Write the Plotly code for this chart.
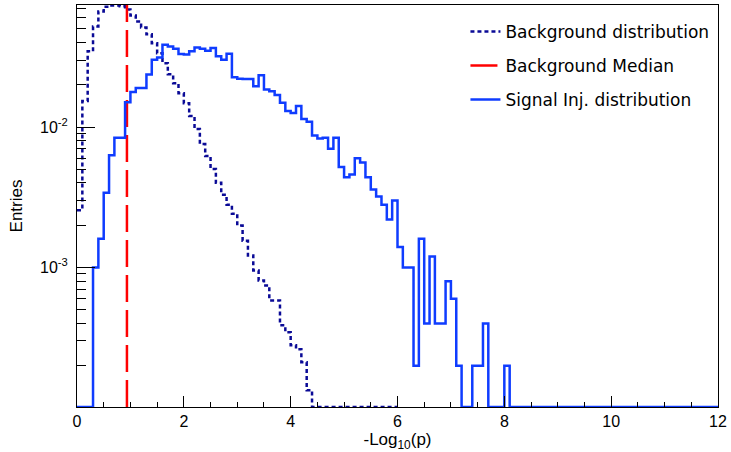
import numpy as np
import plotly.graph_objects as go

# ---------------- data ----------------
bin_width = 0.1

# Background distribution: 60 bins of width 0.1 from 0 to 6
bg_values = [
    0.00256, 0.0153, 0.0346, 0.0520, 0.0666, 0.0720, 0.0735, 0.0735, 0.0725, 0.0687,
    0.0622, 0.0565, 0.0512, 0.0457, 0.0395, 0.0335, 0.0285, 0.0238, 0.0205, 0.0174,
    0.0148, 0.0120, 0.00968, 0.00757, 0.00622, 0.00503, 0.00401, 0.00330, 0.00280, 0.00241,
    0.00199, 0.00155, 0.00122, 0.000952, 0.000809, 0.000745, 0.000583, 0.000583, 0.000388, 0.000346,
    0.000280, 0.000262, 0.000212, 0.000134, 0, 0, 0, 0, 0, 0,
    0, 0, 0, 0, 0, 0, 0, 0, 0, 0,
]

# Signal injected distribution: 120 bins of width 0.1 from 0 to 12
sig_values = [
    0, 0, 0, 0.0010, 0.0016, 0.0034, 0.0063, 0.0084, 0.0084, 0.0150,
    0.0178, 0.0190, 0.0190, 0.0237, 0.0302, 0.0313, 0.0386, 0.0375, 0.0361, 0.0331,
    0.0328, 0.0346, 0.0369, 0.0361, 0.0350, 0.0365, 0.0319, 0.0302, 0.0333, 0.0226,
    0.0221, 0.0220, 0.0220, 0.0195, 0.0234, 0.0185, 0.0180, 0.0169, 0.0149, 0.0130,
    0.0126, 0.0141, 0.0114, 0.0109, 0.0087, 0.0083, 0.0084, 0.0070, 0.0084, 0.0052,
    0.0044, 0.0046, 0.0060, 0.0056, 0.0044, 0.0036, 0.0032, 0.0028, 0.0022, 0.0030,
    0.0014, 0.0010, 0.0010, 0.0002, 0.0016, 0.0004, 0.0012, 0.0004, 0.0004, 0.0008,
    0.0006, 0.0002, 0, 0, 0.0002, 0.0002, 0.0004, 0, 0, 0,
    0.0002, 0, 0, 0, 0, 0, 0, 0, 0, 0,
    0, 0, 0, 0, 0, 0, 0, 0, 0, 0,
    0, 0, 0, 0, 0, 0, 0, 0, 0, 0,
    0, 0, 0, 0, 0, 0, 0, 0, 0, 0,
]

background_median = 0.935

x_tick_values = [0, 2, 4, 6, 8, 10, 12]
y_tick_values = [1e-3, 1e-2]
y_tick_labels = ["10<sup>-3</sup>", "10<sup>-2</sup>"]

# ---------------- layout constants ----------------
x_range = [0, 12]
y_log_range = [-3.993, -1.131]
y_floor = 10 ** y_log_range[0]
y_ceil = 10 ** y_log_range[1]


def step_xy(values):
    edges = np.arange(len(values) + 1) * bin_width
    ys = [v if v > 0 else y_floor for v in values]
    ys = ys + [ys[-1]]
    return edges, ys


fig = go.Figure()

bx, by = step_xy(bg_values)
fig.add_trace(go.Scatter(
    x=bx, y=by, mode="lines", line_shape="hv",
    line=dict(color="#0a0a96", width=2.5, dash="4px,3px"),
    name="Background distribution", legendgroup="a",
))

fig.add_trace(go.Scatter(
    x=[background_median, background_median], y=[y_floor, y_ceil], mode="lines",
    line=dict(color="#ff0000", width=2.5, dash="27px,8px"),
    name="Background Median", legendgroup="b",
))

sx, sy = step_xy(sig_values)
fig.add_trace(go.Scatter(
    x=sx, y=sy, mode="lines", line_shape="hv",
    line=dict(color="#0f3cff", width=2.5),
    name="Signal Inj. distribution", legendgroup="c",
))

axis_font = dict(family="Liberation Sans, Arial, sans-serif", size=16, color="black")
title_font = dict(family="Liberation Sans, Arial, sans-serif", size=17, color="black")

fig.update_layout(
    width=731, height=452,
    margin=dict(l=77, r=10, t=4, b=45),
    paper_bgcolor="white", plot_bgcolor="white",
    showlegend=True,
    legend=dict(
        x=0.606, y=0.978, xanchor="left", yanchor="top",
        font=dict(family="DejaVu Sans, Verdana, sans-serif", size=17, color="black"),
        bgcolor="rgba(0,0,0,0)", borderwidth=0,
        traceorder="grouped", tracegroupgap=9,
    ),
    xaxis=dict(
        range=x_range, showline=True, linecolor="black", linewidth=1, mirror=True,
        ticks="inside", ticklen=11, tickcolor="black",
        tickmode="array", tickvals=x_tick_values,
        minor=dict(ticks="inside", ticklen=5, tickcolor="black", dtick=0.5, tick0=0),
        showgrid=False, zeroline=False, tickfont=axis_font,
        title=dict(text="-Log<sub>10</sub>(p)", font=title_font, standoff=0),
    ),
    yaxis=dict(
        type="log", range=y_log_range, showline=True, linecolor="black", linewidth=1,
        mirror=True, ticks="inside", ticklen=18, tickcolor="black",
        tickmode="array", tickvals=y_tick_values, ticktext=y_tick_labels,
        ticklabelstandoff=5,
        minor=dict(ticks="inside", ticklen=9, tickcolor="black", tickmode="array",
                   tickvals=[m * 10 ** e for e in (-4, -3, -2) for m in range(2, 10)]),
        showgrid=False, zeroline=False, tickfont=axis_font,
        title=dict(text="Entries", font=title_font, standoff=13),
    ),
)

fig.write_html("out.html")
